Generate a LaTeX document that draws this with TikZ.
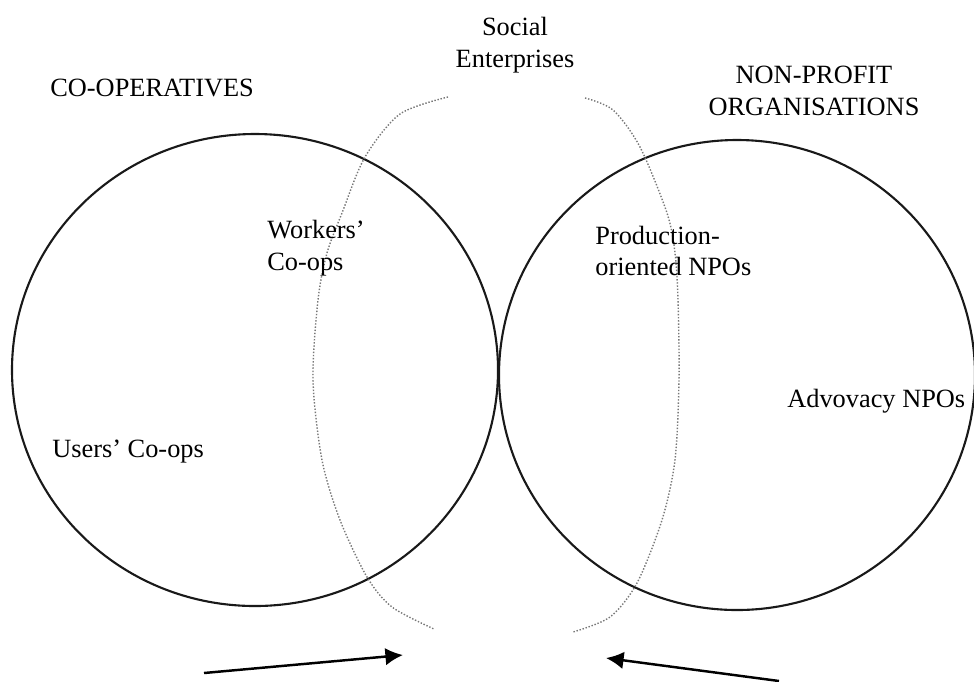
\documentclass[tikz,border=0pt]{standalone}
\usepackage{fontspec}
\setmainfont{Liberation Serif}
\usepackage{tikz}
\usetikzlibrary{arrows.meta}
\definecolor{dotgray}{RGB}{120,120,120}

\begin{document}
\begin{tikzpicture}[x=0.02cm,y=-0.02cm,
    sector/.style={draw=black!90,line width=1.2pt},
    bridge/.style={draw=dotgray,densely dotted,line width=0.8pt},
    label/.style={inner sep=0pt,align=left,font=\fontsize{15}{18}\selectfont},
    pointer/.style={-{Latex[length=10pt,width=10pt]},line width=1.4pt}]

    \useasboundingbox (0,0) rectangle (974,681);

    % the two sectors
    \draw[sector] (255,370) ellipse [x radius=243,y radius=236];
    \draw[sector] (737,375) ellipse [x radius=238,y radius=235];

    % social enterprises, dotted brackets
    \draw[bridge] plot[smooth] coordinates {(448,97) (400,114) (365,157) (342,213) (327,253)
        (318,300) (313,380) (322,460) (340,520) (367,577) (392,607) (434,629)};
    \draw[bridge] plot[smooth] coordinates {(585,98) (613,110) (640,147) (667,213) (675,253)
        (678,300) (679,380) (675,460) (662,520) (637,583) (610,617) (573,632)};

    % titles
    \node[label,anchor=west] (coop) at (50,88) {CO-OPERATIVES};
    \node[label,align=center] (npo) at (814,91) {NON-PROFIT\\ORGANISATIONS};
    \node[label,align=center] (social) at (515,45) {Social\\Enterprises};

    % members
    \node[label,anchor=west] (workers) at (267,248) {Workers'\\Co-ops};
    \node[label,anchor=west] (production) at (595,251) {Production-\\oriented NPOs};
    \node[label,anchor=west] (users) at (52,452) {Users' Co-ops};
    \node[label,anchor=west] (advocacy) at (787,401) {Advovacy NPOs};

    % arrows into the overlap
    \coordinate (leftfrom) at (204,673);
    \coordinate (leftto) at (403,655);
    \coordinate (rightfrom) at (779,681);
    \coordinate (rightto) at (606,658);
    \draw[pointer] (leftfrom) -- (leftto);
    \draw[pointer] (rightfrom) -- (rightto);

\end{tikzpicture}
\end{document}
